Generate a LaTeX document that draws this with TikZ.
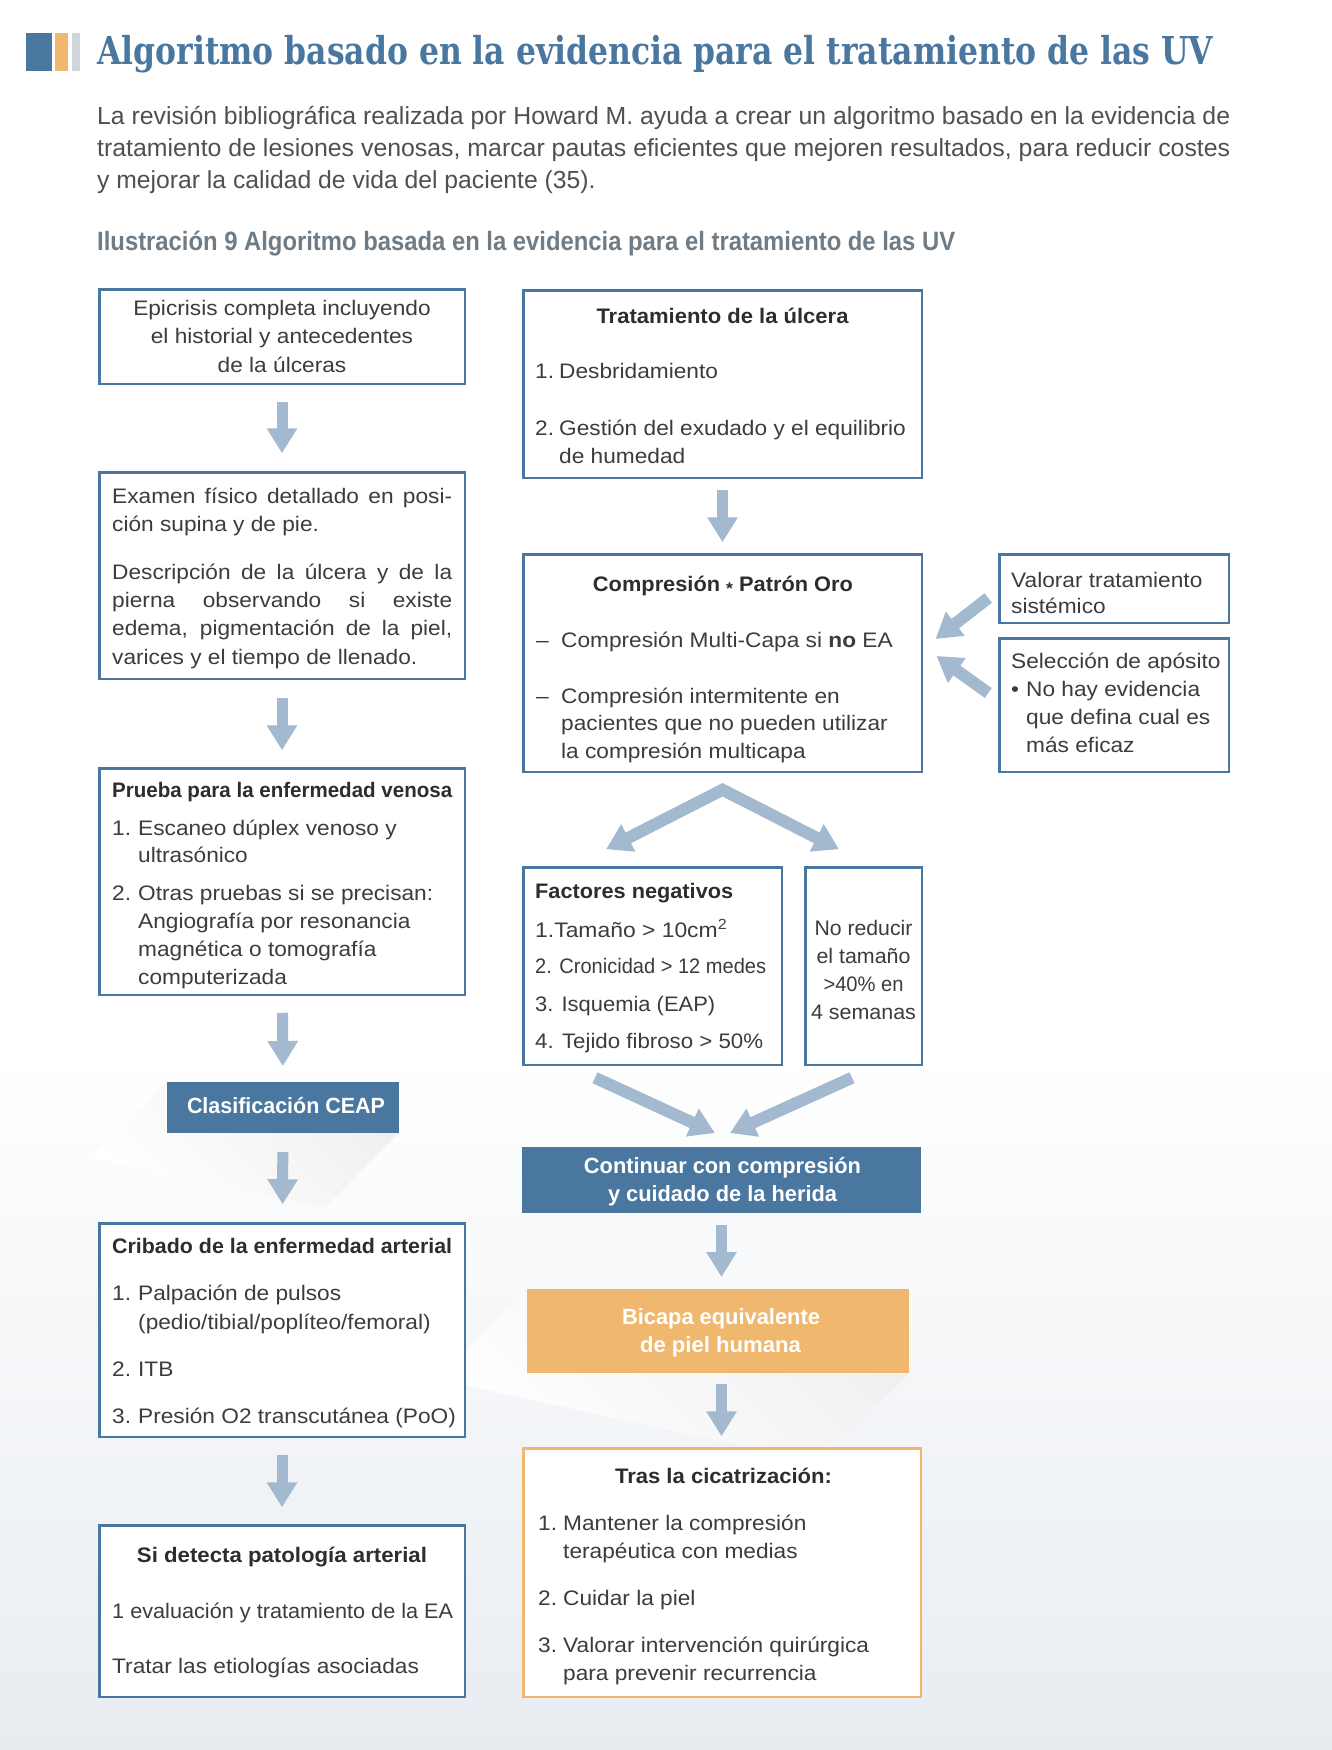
\documentclass[tikz,border=0pt]{standalone}
\usepackage{fontspec}
\usepackage{graphicx}
\setmainfont{Liberation Sans}[FakeStretch=1.08]
\newfontfamily\headf{Liberation Sans}[FakeStretch=0.98]
\newfontfamily\parf{Liberation Sans}
\newfontfamily\titlef{DejaVu Serif}
\usetikzlibrary{arrows.meta,calc}
\definecolor{bluebox}{HTML}{4A77A0}
\definecolor{arrowc}{HTML}{A3B9CF}
\definecolor{orangec}{HTML}{EFB86E}
\definecolor{greybar}{HTML}{D0D6DC}
\definecolor{captc}{HTML}{6F7C86}
\definecolor{txt}{HTML}{3C3C3C}
\definecolor{headc}{HTML}{2D2D2D}
\definecolor{bgbot}{HTML}{E8ECF1}
\newcommand{\fitw}[2]{\resizebox{#1}{\height}{#2}}
\newcommand{\fs}[2]{\fontsize{#1}{#2}\selectfont}
\newcommand{\hd}{\headf\bfseries\color{headc}}
\begin{document}
\begin{tikzpicture}[x=1pt,y=-1pt,
 box/.style={draw=bluebox,line width=2.5pt,fill=white,inner sep=0pt,outer sep=0pt},
 obox/.style={box,draw=orangec},
 dbox/.style={fill=bluebox,inner sep=0pt,outer sep=0pt},
 ybox/.style={fill=orangec,inner sep=0pt,outer sep=0pt},
 tl/.style={anchor=base west,inner sep=0pt,text=txt},
 tc/.style={anchor=base,inner sep=0pt,text=txt},
 arr/.style={draw=arrowc,line width=11pt,-{Triangle[width=29pt,length=25pt]}},
 darr/.style={draw=arrowc,line width=12pt,-{Triangle[width=29pt,length=25pt]}},
 shadowfill/.style={top color=black!6,bottom color=white,shading angle=-45}
]
\useasboundingbox (0,0) rectangle (1332,1750);
\fill[white] (0,0) rectangle (1332,1750);
\shade[top color=white,bottom color=bgbot] (0,1050) rectangle (1332,1750);

% header
\fill[bluebox] (26,33) rectangle (52,71);
\fill[orangec] (55,33) rectangle (68,71);
\fill[greybar] (72,33) rectangle (80,71);
\node[anchor=base west,inner sep=0pt,text=bluebox] (title) at (97,65)
 {\fitw{1116pt}{\titlef\bfseries\fs{38.4}{40}Algoritmo basado en la evidencia para el tratamiento de las UV}};
\node[tl,text=txt!90] (intro) at (97,125) {\parbox[t]{1133pt}{\leavevmode\parf\fs{24.7}{31.5}%
 \fitw{1133pt}{La revisión bibliográfica realizada por Howard M. ayuda a crear un algoritmo basado en la evidencia de}\\
 \fitw{1133pt}{tratamiento de lesiones venosas, marcar pautas eficientes que mejoren resultados, para reducir costes}\\
 y mejorar la calidad de vida del paciente (35).}};
\node[anchor=base west,inner sep=0pt,text=captc] (caption) at (97,250)
 {\headf\bfseries\fs{26.5}{30}\fitw{858pt}{Ilustración 9 Algoritmo basada en la evidencia para el tratamiento de las UV}};

% shadows
\node[dbox,minimum width=232pt,minimum height=51pt,fill=none] (ceapS) at (283,1107.5) {};
\shade[shadowfill] (ceapS.north west) -- (ceapS.south east) -- ++(-75,75) -- ($(ceapS.north west)+(-75,75)$) -- cycle;
\node[ybox,minimum width=382pt,minimum height=84pt,fill=none] (bicS) at (718,1331) {};
\shade[shadowfill] (bicS.north west) -- (bicS.south east) -- ++(-90,90) -- ($(bicS.north west)+(-90,90)$) -- cycle;

% boxes
\node[box,minimum width=365.5pt,minimum height=94.5pt] (b1) at (282,336.5) {};
\node[box,minimum width=365.5pt,minimum height=206.5pt] (b2) at (282,575.5) {};
\node[box,minimum width=365.5pt,minimum height=226.5pt] (b3) at (282,881.5) {};
\node[dbox,minimum width=232pt,minimum height=51pt] (ceap) at (283,1107.5) {};
\node[box,minimum width=365.5pt,minimum height=213.5pt] (b5) at (282,1330) {};
\node[box,minimum width=365.5pt,minimum height=171.5pt] (b6) at (282,1611) {};
\node[box,minimum width=398.5pt,minimum height=187.5pt] (t1) at (722.5,384) {};
\node[box,minimum width=398.5pt,minimum height=217.5pt] (comp) at (722.5,663) {};
\node[box,minimum width=229.5pt,minimum height=68.5pt] (val) at (1114,588.5) {};
\node[box,minimum width=229.5pt,minimum height=133.5pt] (sel) at (1114,705) {};
\node[box,minimum width=258.5pt,minimum height=197.5pt] (fac) at (652.5,966) {};
\node[box,minimum width=116.5pt,minimum height=197.5pt] (nored) at (863.5,966) {};
\node[dbox,minimum width=399pt,minimum height=66pt] (cont) at (721.5,1180) {};
\node[ybox,minimum width=382pt,minimum height=84pt] (bic) at (718,1331) {};
\node[obox,minimum width=397.5pt,minimum height=248.5pt] (tras) at (722,1572.5) {};

% vertical arrows
\draw[arr,shorten <=18pt,shorten >=19pt] (b1) -- (b2);
\draw[arr,shorten <=19pt,shorten >=18pt] (b2) -- (b3);
\draw[arr,shorten <=18pt,shorten >=16pt] (b3) -- (ceap);
\draw[arr,shorten <=19pt,shorten >=19pt] (ceap) -- (b5);
\draw[arr,shorten <=18pt,shorten >=18pt] (b5) -- (b6);
\draw[arr,shorten <=12pt,shorten >=12pt] (t1) -- (comp);
\draw[arr,shorten <=12pt,shorten >=12pt] (cont.south) -- (cont.south |- bic.north);
\draw[arr,shorten <=11pt,shorten >=12pt] (cont.south |- bic.south) -- (cont.south |- tras.north);

% diagonal arrows
\coordinate (apex) at ($(comp.south)+(0,18)$);
\coordinate (tipL) at ($(fac.north)+(-46.5,-18)$);
\coordinate (tipR) at ($(nored.north)+(-24.5,-18)$);
\draw[darr,{Triangle[width=29pt,length=25pt]}-{Triangle[width=29pt,length=25pt]},line join=miter] (tipL) -- (apex) -- (tipR);
\coordinate (fs1) at ($(fac.south)+(-57.5,13)$);
\coordinate (fe1) at ($(cont.north)+(-6.5,-14)$);
\coordinate (fs2) at ($(nored.south)+(-11.5,13)$);
\coordinate (fe2) at ($(cont.north)+(8.5,-14)$);
\draw[darr] (fs1) -- (fe1);
\draw[darr] (fs2) -- (fe2);
\coordinate (vs) at ($(val.west)+(-11,9.5)$);
\coordinate (ve) at ($(comp.east)+(13.75,-24)$);
\coordinate (ss) at ($(sel.west)+(-11,-12)$);
\coordinate (se) at ($(comp.east)+(14.75,-7)$);
\draw[darr] (vs) -- (ve);
\draw[darr] (ss) -- (se);

% texts left column
\node[tc] (b1t) at (282,315) {\parbox[t]{360pt}{\centering\fs{21}{28.5}Epicrisis completa incluyendo\\el historial y antecedentes\\de la úlceras}};
\node[tl] (b2t) at (112,503) {\parbox[t]{340pt}{\leavevmode\fs{21}{28.3}Examen físico detallado en posi-\linebreak ción supina y de pie.\par\vspace{19.7pt}Descripción de la úlcera y de la\linebreak pierna observando si existe\linebreak edema, pigmentación de la piel,\linebreak varices y el tiempo de llenado.}};
\node[tl] (b3t) at (112,797) {\parbox[t]{350pt}{\leavevmode\fs{21}{27.8}{\hd\fitw{340pt}{Prueba para la enfermedad venosa}}\\[10.2pt]\makebox[26pt][l]{1.}Escaneo dúplex venoso y\\\hspace*{26pt}ultrasónico\\[10.2pt]\makebox[26pt][l]{2.}Otras pruebas si se precisan:\\\hspace*{26pt}Angiografía por resonancia\\\hspace*{26pt}magnética o tomografía\\\hspace*{26pt}computerizada}};
\node[tc,text=white] (ceapt) at (286,1113) {\headf\bfseries\fs{22}{26}\fitw{198pt}{Clasificación CEAP}};
\node[tl] (b5t) at (112,1253) {\parbox[t]{350pt}{\leavevmode\fs{21}{29}{\hd\fitw{340pt}{Cribado de la enfermedad arterial}}\\[18pt]\makebox[26pt][l]{1.}Palpación de pulsos\\\hspace*{26pt}(pedio/tibial/poplíteo/femoral)\\[18pt]\makebox[26pt][l]{2.}ITB\\[18pt]\makebox[26pt][l]{3.}Presión O2 transcutánea (PoO)}};
\node[tc] (b6h) at (282,1562) {\hd\fs{21}{25}\fitw{290pt}{Si detecta patología arterial}};
\node[tl] (b6a) at (112,1618) {\fs{21}{25}\fitw{341pt}{1 evaluación y tratamiento de la EA}};
\node[tl] (b6b) at (112,1673) {\fs{21}{25}Tratar las etiologías asociadas};

% texts right column
\node[tc] (t1h) at (722.5,323) {\hd\fs{21}{25}\fitw{252pt}{Tratamiento de la úlcera}};
\node[tl] (t1t) at (535,378) {\parbox[t]{380pt}{\leavevmode\fs{21}{28}\makebox[24pt][l]{1.}Desbridamiento\\[29pt]\makebox[24pt][l]{2.}Gestión del exudado y el equilibrio\\\hspace*{24pt}de humedad}};
\node[tc] (comph) at (723,591) {\hd\fs{21}{25}\fitw{260pt}{Compresión \raisebox{-0.35ex}{\fs{17}{17}*} Patrón Oro}};
\node[tl] (compt) at (536,647) {\parbox[t]{380pt}{\leavevmode\fs{21}{27.7}\makebox[25pt][l]{–}Compresión Multi-Capa si \textbf{no} EA\\[28.3pt]\makebox[25pt][l]{–}Compresión intermitente en\\\hspace*{25pt}pacientes que no pueden utilizar\\\hspace*{25pt}la compresión multicapa}};
\node[tl] (valt) at (1011,587) {\parbox[t]{220pt}{\leavevmode\fs{21}{26}Valorar tratamiento\\sistémico}};
\node[tl] (selt) at (1011,668) {\parbox[t]{220pt}{\leavevmode\fs{21}{28}Selección de apósito\\\makebox[15pt][l]{•}No hay evidencia\\\hspace*{15pt}que defina cual es\\\hspace*{15pt}más eficaz}};
\node[tl] (fach) at (535,898) {\hd\fs{21}{25}\fitw{198pt}{Factores negativos}};
\node[tl] (fac1) at (535,937) {\fs{21}{25}\fitw{192pt}{1.Tamaño > 10cm\textsuperscript{2}}};
\node[tl] (fac2) at (535,973) {\fs{21}{25}\fitw{231pt}{2. Cronicidad > 12 medes}};
\node[tl] (fac3) at (535,1011) {\fs{21}{25}\fitw{180pt}{3. Isquemia (EAP)}};
\node[tl] (fac4) at (535,1048) {\fs{21}{25}\fitw{228pt}{4. Tejido fibroso > 50\%}};
\node[tc] (nr1) at (863.5,935) {\fs{21}{25}\fitw{98pt}{No reducir}};
\node[tc] (nr2) at (863.5,963) {\fs{21}{25}\fitw{94pt}{el tamaño}};
\node[tc] (nr3) at (863.5,991) {\fs{21}{25}\fitw{80pt}{>40\% en}};
\node[tc] (nr4) at (863.5,1019) {\fs{21}{25}\fitw{105pt}{4 semanas}};
\node[tc,text=white] (cont1) at (722.5,1173) {\headf\bfseries\fs{22}{26}\fitw{277pt}{Continuar con compresión}};
\node[tc,text=white] (cont2) at (722.5,1201) {\headf\bfseries\fs{22}{26}\fitw{229pt}{y cuidado de la herida}};
\node[tc,text=white] (bic1) at (721,1324) {\headf\bfseries\fs{22}{26}\fitw{198pt}{Bicapa equivalente}};
\node[tc,text=white] (bic2) at (720.5,1352) {\headf\bfseries\fs{22}{26}\fitw{161pt}{de piel humana}};
\node[tc] (trash) at (723.5,1483) {\hd\fs{21}{25}\fitw{217pt}{Tras la cicatrización:}};
\node[tl] (trast) at (538,1530) {\parbox[t]{380pt}{\leavevmode\fs{21}{28}\makebox[25pt][l]{1.}Mantener la compresión\\\hspace*{25pt}terapéutica con medias\\[19pt]\makebox[25pt][l]{2.}Cuidar la piel\\[19pt]\makebox[25pt][l]{3.}Valorar intervención quirúrgica\\\hspace*{25pt}para prevenir recurrencia}};
\end{tikzpicture}
\end{document}
